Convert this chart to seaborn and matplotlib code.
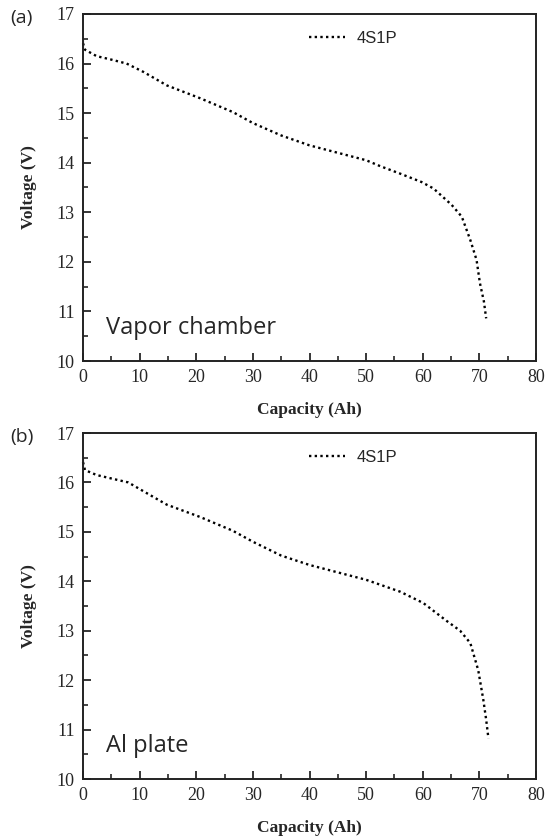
import numpy as np
import pandas as pd
import matplotlib
matplotlib.use('Agg')
import matplotlib.pyplot as plt
from matplotlib.ticker import MultipleLocator
import seaborn as sns

# ── data ──
cap_vc = [0.0, 0.0, 0.35, 2.4, 5.0, 7.7, 10.7, 14.8, 20.7, 26.5, 30.0, 35.0, 40.0, 45.0,
          50.0, 52.5, 56.0, 59.8, 61.9, 65.1, 66.9, 68.4, 69.5, 70.1, 70.8, 71.2]
volt_vc = [16.50, 16.32, 16.28, 16.15, 16.08, 16.00, 15.83, 15.56, 15.30, 15.02, 14.80, 14.55,
           14.35, 14.20, 14.05, 13.93, 13.78, 13.61, 13.48, 13.15, 12.91, 12.44, 12.04, 11.57,
           11.20, 10.86]

cap_al = [0.0, 0.0, 0.35, 2.4, 5.0, 8.0, 10.7, 14.8, 20.7, 26.5, 30.0, 35.0, 40.0, 45.0,
          50.0, 52.5, 56.0, 60.1, 64.2, 66.6, 68.4, 69.8, 70.7, 71.2, 71.6]
volt_al = [16.50, 16.32, 16.25, 16.15, 16.08, 16.00, 15.82, 15.55, 15.30, 15.02, 14.80, 14.52,
           14.33, 14.18, 14.03, 13.93, 13.79, 13.56, 13.20, 13.00, 12.75, 12.20, 11.60, 11.20,
           10.82]

panels = [('(a)', 'Vapor chamber', cap_vc, volt_vc),
          ('(b)', 'Al plate', cap_al, volt_al)]

sns.set_style('ticks')
plt.rcParams['font.family'] = ['Liberation Serif', 'DejaVu Serif']

fig = plt.figure(figsize=(5.49, 8.38), dpi=100)
W, H = 549, 838
boxes = [(83, 14, 536, 361), (83, 433, 536, 779)]

for (tag, name, cap, volt), (x0, y0, x1, y1) in zip(panels, boxes):
    ax = fig.add_axes([x0 / W, 1 - y1 / H, (x1 - x0) / W, (y1 - y0) / H])
    df = pd.DataFrame({'Capacity': cap, 'Voltage': volt})
    sns.lineplot(data=df, x='Capacity', y='Voltage', ax=ax, sort=False,
                 color='black', linestyle=(0, (1, 1.4)), lw=1.7, label='4S1P',
                 clip_on=False)

    ax.set_xlim(0, 80)
    ax.set_ylim(10, 17)
    ax.xaxis.set_major_locator(MultipleLocator(10))
    ax.xaxis.set_minor_locator(MultipleLocator(5))
    ax.yaxis.set_major_locator(MultipleLocator(1))
    ax.yaxis.set_minor_locator(MultipleLocator(0.5))
    ax.tick_params(which='major', direction='in', length=6, width=1.3,
                   labelsize=13, pad=6)
    ax.tick_params(which='minor', direction='in', length=3.5, width=1.2)
    ax.tick_params(axis='x', top=False)
    ax.tick_params(axis='y', right=False)
    for sp in ax.spines.values():
        sp.set_visible(True)
        sp.set_linewidth(1.4)
        sp.set_color('#222222')

    ax.set_xlabel('Capacity (Ah)', fontsize=12.5, fontweight='bold', labelpad=11)
    ax.set_ylabel('Voltage (V)', fontsize=12.5, fontweight='bold', labelpad=14)

    ax.legend(loc='upper left', bbox_to_anchor=(0.465, 0.995), frameon=False,
              handlelength=2.2, handletextpad=0.7,
              prop={'family': 'Liberation Sans', 'size': 12})

    ax.text(0.05, 0.06, name, transform=ax.transAxes, fontsize=17,
            family='Open Sans', ha='left', va='bottom')
    fig.text(10 / W, 1 - (y0 + 4) / H, tag, fontsize=14, family='Open Sans',
             ha='left', va='center')

fig.savefig('out.png', dpi=100)
